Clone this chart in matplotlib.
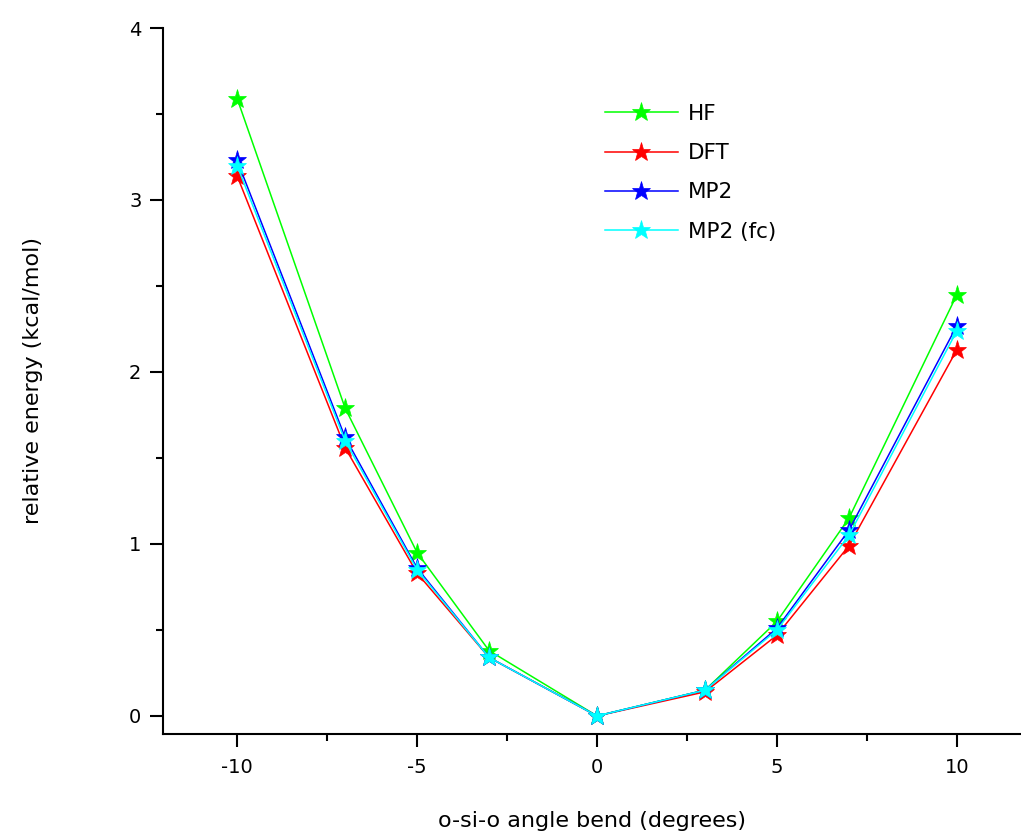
import numpy as np
import matplotlib.pyplot as plt
from matplotlib.ticker import MultipleLocator

plt.rcParams["axes.unicode_minus"] = False

# angle bend (degrees)
angle = [-10, -7, -5, -3, 0, 3, 5, 7, 10]

# relative energies (kcal/mol)
hf = [3.59, 1.79, 0.95, 0.38, 0.0, 0.15, 0.55, 1.15, 2.45]
dft = [3.14, 1.56, 0.83, 0.34, 0.0, 0.14, 0.47, 0.99, 2.13]
mp2 = [3.23, 1.62, 0.86, 0.34, 0.0, 0.15, 0.51, 1.08, 2.27]
mp2_fc = [3.20, 1.60, 0.85, 0.34, 0.0, 0.15, 0.50, 1.05, 2.24]

series = [("HF", hf, "#00ff00"),
          ("DFT", dft, "#ff0000"),
          ("MP2", mp2, "#0000ff"),
          ("MP2 (fc)", mp2_fc, "#00ffff")]

fig = plt.figure(figsize=(10.21, 8.34), dpi=100)
ax = fig.add_axes([163 / 1021, 1 - 734 / 834, 1 - 163 / 1021, (734 - 28) / 834])

for name, vals, col in series:
    ax.plot(angle, vals, color=col, linewidth=1.1, marker="*",
            markersize=14, markeredgewidth=0.5, label=name)

ax.set_xlim(-12.06, 11.78)
ax.set_ylim(-0.105, 4.0)

ax.xaxis.set_major_locator(MultipleLocator(5))
ax.xaxis.set_minor_locator(MultipleLocator(2.5))
ax.yaxis.set_major_locator(MultipleLocator(1))
ax.yaxis.set_minor_locator(MultipleLocator(0.5))

ax.spines["top"].set_visible(False)
ax.spines["right"].set_visible(False)
for s in ("left", "bottom"):
    ax.spines[s].set_linewidth(1.5)

ax.tick_params(which="major", direction="out", length=9.5, width=1.5,
               labelsize=14)
ax.tick_params(which="minor", direction="out", length=5, width=1.5)
ax.tick_params(axis="x", which="major", pad=8)
ax.tick_params(axis="y", which="major", pad=6)

ax.set_xlabel("o-si-o angle bend (degrees)", fontsize=16, labelpad=24)
ax.set_ylabel("relative energy (kcal/mol)", fontsize=16, labelpad=62)

ax.legend(loc="upper left", bbox_to_anchor=(0.505, 0.905), frameon=False,
          fontsize=15.5, handlelength=3.4, handletextpad=0.45,
          labelspacing=0.9, borderaxespad=0)

fig.savefig("out.png", dpi=100)
